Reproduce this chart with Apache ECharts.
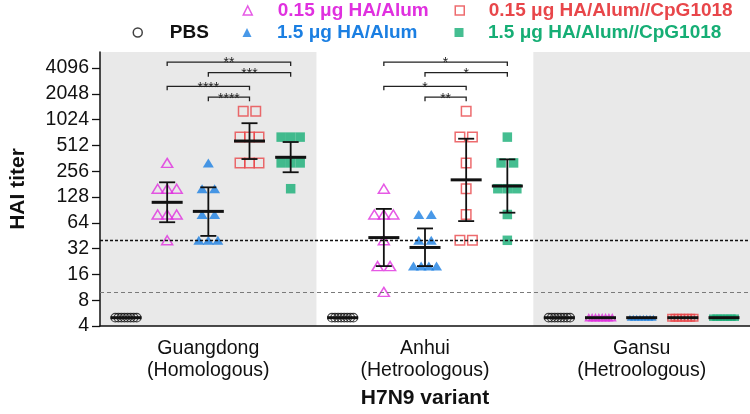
<!DOCTYPE html>
<html><head><meta charset="utf-8">
<script src="https://cdn.jsdelivr.net/npm/echarts@6/dist/echarts.min.js"></script>
<style>html,body{margin:0;padding:0;background:#fff}#c{width:750px;height:414px}</style>
</head><body><div id="c"></div>
<script>
// ---------- data ----------
const categories = ['Guangdong\n(Homologous)', 'Anhui\n(Hetroologous)', 'Gansu\n(Hetroologous)'];
const seriesNames = ['PBS', '0.15 μg HA/Alum', '1.5 μg HA/Alum', '0.15 μg HA/Alum//CpG1018', '1.5 μg HA/Alum//CpG1018'];
const yTickValues = [4, 8, 16, 32, 64, 128, 256, 512, 1024, 2048, 4096];

// individual HAI titers per group [Guangdong, Anhui, Gansu]
const pbsTiters = [[5,5,5,5,5,5,5,5],[5,5,5,5,5,5,5,5],[5,5,5,5,5,5,5,5]];
const ha015Titers = [[320,160,160,160,80,80,80,40],[160,80,80,80,40,20,20,10],[5,5,5,5,5,5,5,5]];
const ha15Titers = [[320,160,160,80,80,40,40,40],[80,80,40,40,20,20,20,20],[5,5,5,5,5,5,5,5]];
const cpg015Titers = [[1280,1280,640,640,640,320,320,320],[1280,640,640,320,160,80,40,40],[5,5,5,5,5,5,5,5]];
const cpg15Titers = [[640,640,640,320,320,320,160],[640,320,320,160,160,160,80,40],[5,5,5,5,5,5,5,5]];

// group means and error bar limits
const pbsMean = [5, 5, 5], pbsLow = [5, 5, 5], pbsHigh = [5, 5, 5];
const ha015Mean = [111, 43, 5], ha015Low = [65, 20, 5], ha015High = [190, 93, 5];
const ha15Mean = [87, 33, 5], ha15Low = [45, 20, 5], ha15High = [166, 55, 5];
const cpg015Mean = [576, 203, 5], cpg015Low = [355, 67, 5], cpg015High = [930, 613, 5];
const cpg15Mean = [372, 172, 5], cpg15Low = [249, 84, 5], cpg15High = [561, 352, 5];

const cutoffValues = [10, 40];

// significance comparisons: group index, column A, column B, label
const compGroups = [0, 0, 0, 0, 1, 1, 1, 1];
const compColA = [1, 2, 1, 2, 1, 2, 1, 2];
const compColB = [4, 4, 3, 3, 4, 4, 3, 3];
const compStars = ['**', '***', '****', '****', '*', '*', '*', '**'];
const compLevels = [4810, 3610, 2504, 1870, 4810, 3610, 2504, 1870];

// ---------- styling / layout ----------
const colors = ['#111111', '#E030DF', '#1B7FE2', '#E8464A', '#16AE75'];
const symbols = ['circle', 'triangle', 'triangle', 'rect', 'rect'];
const hollow = [true, true, false, true, false];
const normalSize = [[8.5, 8.5], [11, 9], [11, 9], [9.5, 9.5], [9.5, 9.5]];
const smallSize = [[8.5, 8.5], [6.5, 6], [6.5, 6], [6.5, 6.5], [6.5, 6.5]];
const colOffset = [-0.38, -0.19, 0, 0.19, 0.38];
const FONT = '"Liberation Sans", Arial, Helvetica, sans-serif';

const allTiters = [pbsTiters, ha015Titers, ha15Titers, cpg015Titers, cpg15Titers];
const allMean = [pbsMean, ha015Mean, ha15Mean, cpg015Mean, cpg15Mean];
const allLow = [pbsLow, ha015Low, ha15Low, cpg015Low, cpg15Low];
const allHigh = [pbsHigh, ha015High, ha15High, cpg015High, cpg15High];

function colX(g, k) { return g + 0.5 + colOffset[k]; }
function spacingFor(n, size) {
  if (n <= 1) return 0;
  if (n === 2) return 12.5;
  if (n === 3) return 9.5;
  if (n === 4) return 7.7;
  return (30 - size) / (n - 1);
}

const series = [];
for (let k = 0; k < 5; k++) {
  const data = [];
  allTiters[k].forEach((vals, g) => {
    const counts = {};
    vals.forEach(v => counts[v] = (counts[v] || 0) + 1);
    const seen = {};
    vals.forEach(v => {
      const n = counts[v];
      const i = seen[v] = (seen[v] === undefined ? 0 : seen[v] + 1);
      const sz = n >= 6 ? smallSize[k] : normalSize[k];
      const dx = (i - (n - 1) / 2) * spacingFor(n, sz[0]);
      data.push({ value: [colX(g, k), v], symbolOffset: [dx, 0], symbolSize: sz });
    });
  });
  const s = {
    name: seriesNames[k], type: 'scatter', xAxisIndex: 1, yAxisIndex: 0,
    symbol: symbols[k], data: data, z: 3,
    itemStyle: hollow[k]
      ? { color: 'rgba(0,0,0,0)', borderColor: colors[k], borderWidth: k === 0 ? 1.2 : 1.5 }
      : { color: colors[k], borderWidth: 0 },
    emphasis: { disabled: true }
  };
  if (k === 0) {
    s.markLine = {
      silent: true, symbol: 'none', label: { show: false }, animation: false,
      data: [
        { yAxis: cutoffValues[0], lineStyle: { color: '#7a7a7a', type: [4, 3], width: 1 } },
        { yAxis: cutoffValues[1], lineStyle: { color: '#111', type: [3, 2], width: 1.3 } }
      ]
    };
  }
  series.push(s);
}

// mean + error bars
const errData = [];
for (let k = 0; k < 5; k++) for (let g = 0; g < 3; g++)
  errData.push([colX(g, k), allMean[k][g], allLow[k][g], allHigh[k][g]]);
series.push({
  type: 'custom', xAxisIndex: 1, yAxisIndex: 0, z: 5, silent: true,
  encode: { x: 0, y: 1 }, data: errData,
  renderItem: function (params, api) {
    const x = api.value(0), m = api.value(1), lo = api.value(2), hi = api.value(3);
    const pm = api.coord([x, m]), pl = api.coord([x, lo]), ph = api.coord([x, hi]);
    const st = { stroke: '#111', lineWidth: 1.8 };
    const ch = [];
    if (hi > lo) {
      ch.push({ type: 'line', shape: { x1: pm[0], y1: ph[1], x2: pm[0], y2: pl[1] }, style: st });
      ch.push({ type: 'line', shape: { x1: pm[0] - 8, y1: ph[1], x2: pm[0] + 8, y2: ph[1] }, style: st });
      ch.push({ type: 'line', shape: { x1: pm[0] - 8, y1: pl[1], x2: pm[0] + 8, y2: pl[1] }, style: st });
    }
    ch.push({ type: 'line', shape: { x1: pm[0] - 15.5, y1: pm[1], x2: pm[0] + 15.5, y2: pm[1] }, style: { stroke: '#111', lineWidth: 3 } });
    return { type: 'group', children: ch };
  }
});

// significance brackets
const brData = compGroups.map((g, i) => [colX(g, compColA[i]), colX(g, compColB[i]), compLevels[i]]);
series.push({
  type: 'custom', xAxisIndex: 1, yAxisIndex: 0, z: 6, silent: true, clip: false,
  encode: { x: [0, 1], y: 2 }, data: brData,
  renderItem: function (params, api) {
    const p1 = api.coord([api.value(0), api.value(2)]);
    const p2 = api.coord([api.value(1), api.value(2)]);
    return { type: 'group', children: [
      { type: 'polyline', shape: { points: [[p1[0], p1[1] + 4], [p1[0], p1[1]], [p2[0], p2[1]], [p2[0], p2[1] + 4]] },
        style: { stroke: '#222', lineWidth: 1.3, fill: null } },
      { type: 'text', style: { text: compStars[params.dataIndex], x: (p1[0] + p2[0]) / 2, y: p1[1] + 1.5,
        align: 'center', verticalAlign: 'middle', font: '14px ' + FONT, fill: '#222' } }
    ] };
  }
});

// legends (one per item to mimic the 2-row layout): marker centre x, row centre y, gap to text
const legendPos = [[137, 33, 22.5], [247, 11, 20.5], [247, 33, 20.5], [459, 11, 19.5], [459, 33, 19.5]];
const legends = legendPos.map((p, k) => ({
  left: p[0] - 4.5, top: p[1] - 10, padding: 0,
  itemWidth: 9, itemHeight: 9, selectedMode: false,
  data: [{ name: seriesNames[k], textStyle: { color: colors[k] } }],
  itemStyle: { borderWidth: 1.5 },
  formatter: name => '{g| }' + name,
  textStyle: { fontSize: 19, fontWeight: 'bold', fontFamily: FONT, color: colors[k],
    rich: { g: { width: p[2] } } }
}));

const chart = echarts.init(document.getElementById('c'), null, { renderer: 'canvas' });
chart.setOption({
  animation: false,
  backgroundColor: '#fff',
  legend: legends,
  grid: { left: 100, right: 0, top: 52, bottom: 88, containLabel: false },
  xAxis: [{
    type: 'category', data: categories, boundaryGap: true,
    name: 'H7N9 variant', nameLocation: 'middle', nameGap: 62,
    nameTextStyle: { fontSize: 21, fontWeight: 'bold', fontFamily: FONT, color: '#111' },
    axisLine: { lineStyle: { color: '#111', width: 1.5 } },
    axisTick: { alignWithLabel: true, length: 6, lineStyle: { color: '#111', width: 1.3 } },
    axisLabel: { fontSize: 19.5, lineHeight: 22, margin: 12, color: '#111', fontFamily: FONT },
    splitLine: { show: false },
    splitArea: { show: true, areaStyle: { color: ['#e9e9e9', '#ffffff'] } }
  }, {
    type: 'value', min: 0, max: 3, show: false
  }],
  yAxis: [{
    type: 'log', logBase: 2, min: 4, max: 6300,
    name: 'HAI titer', nameLocation: 'middle', nameGap: 71,
    nameTextStyle: { fontSize: 21, fontWeight: 'bold', fontFamily: FONT, color: '#111' },
    axisLine: { show: true, lineStyle: { color: '#111', width: 1.5 } },
    axisTick: { show: true, length: 8, customValues: yTickValues, lineStyle: { color: '#111', width: 1.3 } },
    axisLabel: { customValues: yTickValues, fontSize: 19.5, margin: 11, color: '#111', fontFamily: FONT,
      formatter: v => String(Math.round(v)) },
    splitLine: { show: false }
  }],
  series: series
});
</script></body></html>
